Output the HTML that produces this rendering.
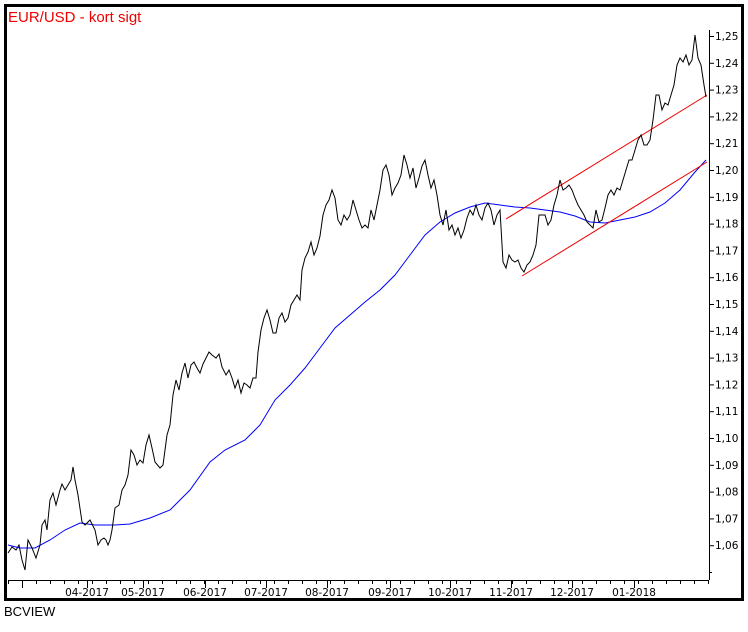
<!DOCTYPE html>
<html><head><meta charset="utf-8"><style>
body{margin:0;background:#fff;width:748px;height:627px;overflow:hidden}
svg text{font-family:"DejaVu Sans","Liberation Sans",sans-serif;font-size:10.5px}
</style></head><body>
<svg width="748" height="627" xmlns="http://www.w3.org/2000/svg">
<rect x="5.5" y="5.5" width="737" height="594" fill="#fff" stroke="#000" stroke-width="3"/>
<text x="8" y="22" fill="#e00" style="font-size:15px;font-family:'Liberation Sans',sans-serif">EUR/USD - kort sigt</text>
<text x="4" y="616" fill="#000" style="font-size:13px;font-family:'Liberation Sans',sans-serif">BCVIEW</text>
<line x1="709.5" y1="30" x2="709.5" y2="580" stroke="#000"/>
<line x1="8" y1="580.5" x2="709" y2="580.5" stroke="#000"/>
<g id="yt" stroke="#000"></g>
<g id="yl" fill="#000"></g>
<g id="xt" stroke="#000"></g>
<g id="xl" fill="#000"></g>
<polyline fill="none" stroke="#00f" stroke-width="1" points="8,545 20,548 35,548 50,540 65,530 80,523 95,525 115,525 130,524 150,518 170,510 190,490 210,462 225,450 245,440 260,425 275,400 290,385 305,368 320,348 335,328 350,315 365,302 380,290 395,275 410,255 425,235 440,222 455,213 470,207 485,203 500,205 515,207 530,208 545,210 560,212 575,216 590,222 605,223 620,220 635,217 650,212 665,203 680,190 695,172 706,160"/>
<line x1="506" y1="219" x2="707" y2="95" stroke="#e00"/>
<line x1="522" y1="276" x2="707" y2="162" stroke="#e00"/>
<polyline fill="none" stroke="#000" stroke-width="1" points="8,553 12,547 16,550 19,545 22,560 25,570 28,540 32,548 36,558 40,545 42,525 45,520 47,530 50,500 53,493 56,505 60,490 62,484 65,490 68,485 71,480 73,467 75,480 78,495 82,522 85,525 90,520 95,530 98,545 101,540 104,538 106,540 108,545 110,540 112,530 115,508 119,505 122,490 125,485 128,475 131,450 134,455 137,465 140,460 143,463 146,445 149,435 152,448 155,462 160,468 163,465 167,435 170,425 173,395 176,380 179,390 182,373 185,363 188,378 191,365 194,362 197,368 200,373 203,364 206,358 209,352 212,355 216,358 219,354 222,367 226,375 229,370 232,378 235,388 238,380 241,393 244,383 247,385 250,388 253,378 256,378 258,352 261,330 264,318 267,310 270,320 273,333 276,333 279,318 282,313 285,322 288,318 291,305 294,300 297,295 300,300 302,270 305,258 308,252 311,242 314,255 317,248 320,236 323,215 326,205 329,200 332,190 335,198 338,220 341,225 344,215 347,220 350,215 353,200 356,210 359,220 362,228 365,225 368,228 371,210 374,220 377,205 380,190 383,170 386,165 389,175 392,195 395,188 398,183 401,175 404,155 407,165 410,178 413,168 416,188 419,178 422,166 425,160 428,175 431,188 434,180 437,195 440,215 443,225 446,210 449,230 452,225 455,235 458,228 461,238 464,230 467,218 470,210 473,215 476,205 479,215 482,220 485,208 488,203 491,210 494,225 497,215 500,210 503,262 506,268 509,255 512,260 515,262 518,260 521,268 524,272 527,265 530,262 533,255 536,245 539,215 542,215 545,215 548,225 551,220 554,205 557,195 560,180 563,190 566,188 569,185 572,190 575,198 578,205 581,210 584,215 587,222 590,225 593,228 596,210 599,222 602,220 605,208 608,195 611,190 614,195 617,188 620,190 623,180 626,170 629,160 632,160 635,150 638,140 641,135 644,145 647,145 650,140 653,120 656,95 659,95 662,110 665,103 668,105 671,95 674,85 677,65 680,58 683,62 686,55 689,65 692,60 695,35 698,58 701,65 704,85 706,97"/>
</svg>
<script>
var ns="http://www.w3.org/2000/svg";
function el(p,t,a,tx){var e=document.createElementNS(ns,t);for(var k in a)e.setAttribute(k,a[k]);if(tx)e.textContent=tx;document.getElementById(p).appendChild(e);}
for(var i=0;i<=19;i++){var v=1.25-i*0.01;var y=36+i*26.8;
el("yt","line",{x1:709,x2:714,y1:y+0.5,y2:y+0.5});
el("yl","text",{x:715,y:y+4},v.toFixed(2).replace(".",","));}
el("yt","line",{x1:709,x2:712,y1:572.5,y2:572.5});
var months=[["04-2017",87],["05-2017",143],["06-2017",205],["07-2017",266],["08-2017",327],["09-2017",390],["10-2017",450],["11-2017",511],["12-2017",572],["01-2018",634]];
for(var x=8;x<709;x+=14){el("xt","line",{x1:x+0.5,x2:x+0.5,y1:580,y2:584});}
el("xt","line",{x1:22.5,x2:22.5,y1:580,y2:588});
months.forEach(function(m){el("xt","line",{x1:m[1]+0.5,x2:m[1]+0.5,y1:580,y2:588});el("xl","text",{x:m[1],y:596,"text-anchor":"middle"},m[0]);});
</script>
</body></html>
